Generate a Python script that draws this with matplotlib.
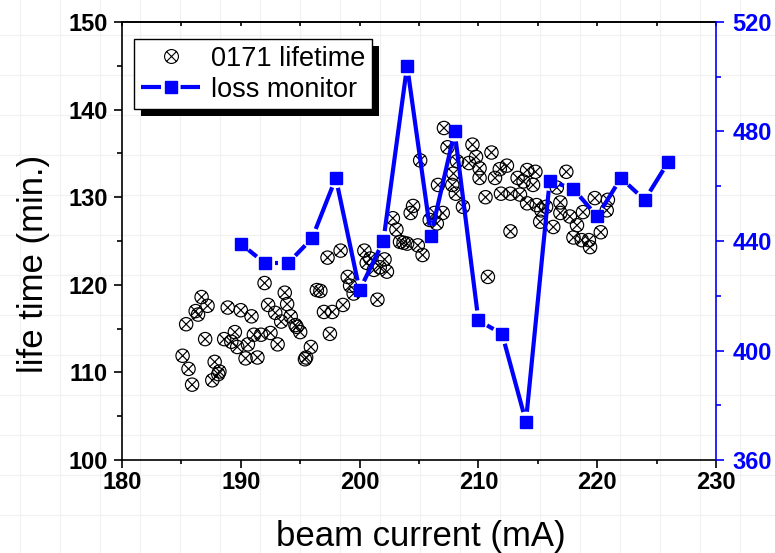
import numpy as np
import matplotlib
matplotlib.use("Agg")
import matplotlib.pyplot as plt
from matplotlib.path import Path
from matplotlib.lines import Line2D
from matplotlib.patches import Rectangle

plt.rcParams['font.family'] = ['Liberation Sans', 'DejaVu Sans']

# 0171 lifetime (min.) vs beam current (mA)
life_current = [192.0, 186.7, 187.2, 186.2, 186.4, 185.4, 188.9, 190.0, 190.9, 187.0,
                188.6, 189.5, 189.2, 189.7, 190.4, 191.4, 190.6, 191.1, 191.7, 192.5,
                193.1, 192.3, 193.7, 193.9, 192.9, 193.4, 194.2, 194.6, 195.0, 194.7,
                195.9, 195.4, 195.5, 196.4, 196.7, 197.0, 197.7, 197.5, 185.1, 185.6,
                185.9, 187.8, 188.2, 188.1, 187.6, 204.5, 204.3, 202.8, 203.1, 203.4,
                203.7, 204.0, 204.9, 205.3, 206.3, 207.0, 205.9, 206.5, 206.6, 207.8,
                208.1, 197.3, 198.4, 200.4, 200.9, 200.6, 202.1, 202.3, 201.7, 201.2,
                199.0, 199.2, 199.5, 201.5, 198.6, 207.1, 207.4, 209.5, 209.8, 209.2,
                210.1, 210.1, 211.1, 212.4, 211.8, 211.4, 214.1, 213.3, 213.8, 214.6,
                208.7, 210.6, 211.9, 212.7, 213.5, 214.1, 214.9, 215.3, 215.2, 212.7,
                208.2, 207.9, 210.8, 217.4, 214.8, 216.6, 215.7, 216.9, 216.9, 217.7,
                218.8, 219.8, 220.9, 220.8, 216.3, 218.3, 218.0, 218.7, 219.4, 220.3,
                219.3, 205.1]
life_time = [120.2, 118.6, 117.6, 117.0, 116.6, 115.5, 117.4, 117.1, 116.4, 113.8,
             113.8, 114.6, 113.5, 112.9, 111.6, 111.7, 113.2, 114.3, 114.3, 114.5,
             113.2, 117.7, 119.1, 117.8, 116.8, 115.8, 116.4, 115.4, 114.6, 115.2,
             112.9, 111.5, 111.7, 119.4, 119.3, 116.9, 116.9, 114.4, 111.9, 110.4,
             108.6, 111.2, 110.1, 109.8, 109.1, 129.0, 128.2, 127.6, 126.3, 124.9,
             124.8, 124.7, 124.5, 123.4, 128.2, 128.2, 127.4, 127.0, 131.4, 131.4,
             130.4, 123.1, 123.9, 123.9, 123.0, 122.5, 122.9, 121.5, 122.0, 121.7,
             120.9, 119.9, 119.0, 118.3, 117.7, 137.9, 135.7, 136.0, 134.6, 133.9,
             133.3, 132.2, 135.1, 133.6, 133.2, 132.2, 133.1, 132.2, 131.8, 131.4,
             128.9, 130.0, 130.4, 130.4, 130.3, 129.3, 129.1, 128.5, 127.2, 126.1,
             134.1, 132.7, 120.9, 132.9, 132.9, 131.1, 128.9, 129.4, 128.2, 127.8,
             128.3, 129.9, 129.7, 128.5, 126.6, 126.8, 125.4, 125.1, 124.3, 126.0,
             125.1, 134.2]

# loss monitor (right axis)
loss_current = [190, 192, 194, 196, 198, 200, 202, 204, 206, 208,
                210, 212, 214, 216, 218, 220, 222, 224, 226]
loss_value = [439, 432, 432, 441, 463, 422, 440, 504, 442, 480,
              411, 406, 374, 462, 459, 449, 463, 455, 469]

x_ticks = [180, 190, 200, 210, 220, 230]
y_ticks = [100, 110, 120, 130, 140, 150]
y2_ticks = [360, 400, 440, 480, 520]

W, H = 775, 553
fig = plt.figure(figsize=(W / 100, H / 100), dpi=100)
fig.patch.set_facecolor('white')

# faint background grid of the page
for px in np.arange(20, W, 40):
    fig.add_artist(Line2D([px / W, px / W], [0, 1], transform=fig.transFigure,
                          color='#f1f1f1', lw=0.9, zorder=-5))
for py in np.arange(35, H, 40):
    fig.add_artist(Line2D([0, 1], [1 - py / H, 1 - py / H], transform=fig.transFigure,
                          color='#f1f1f1', lw=0.9, zorder=-5))

ax = fig.add_axes([122 / W, 1 - 460 / H, 594 / W, 438 / H])
ax.set_facecolor('none')
ax2 = ax.twinx()
ax2.set_facecolor('none')

ax.set_xlim(180, 230)
ax.set_ylim(100, 150)
ax2.set_ylim(360, 520)

# circle with a cross marker
d = 0.74
otimes = Path.make_compound_path(
    Path.unit_circle(),
    Path([[-d, -d], [d, d], [-d, d], [d, -d]],
         [Path.MOVETO, Path.LINETO, Path.MOVETO, Path.LINETO]))

ax.scatter(life_current, life_time, s=92, marker=otimes, facecolors='none',
           edgecolors='black', linewidths=0.85, zorder=3)


# line with small gaps around each square, like Origin draws it
def gapped_line(a, xs, ys, gap, **kw):
    pts = a.transData.transform(np.column_stack([xs, ys]))
    inv = a.transData.inverted()
    for p0, p1 in zip(pts[:-1], pts[1:]):
        v = p1 - p0
        n = np.hypot(v[0], v[1])
        if n <= 2 * gap:
            continue
        u = v / n
        s0 = inv.transform(p0 + u * gap)
        s1 = inv.transform(p1 - u * gap)
        a.plot([s0[0], s1[0]], [s0[1], s1[1]], **kw)


gapped_line(ax2, loss_current, loss_value, 10, color='#0000ff', lw=3,
            solid_capstyle='butt', zorder=4)
ax2.plot(loss_current, loss_value, ls='none', marker='s', ms=8.2, color='#0000ff',
         mec='#0000ff', mew=1, zorder=5)

# ticks
ax.set_xticks(x_ticks)
ax.set_xticks(np.arange(185, 230, 10), minor=True)
ax.set_yticks(y_ticks)
ax.set_yticks(np.arange(105, 150, 10), minor=True)
ax2.set_yticks(y2_ticks)
ax2.set_yticks(np.arange(380, 520, 40), minor=True)

ax.tick_params(axis='x', which='major', direction='out', length=6, width=1.2,
               labelsize=17, pad=2)
ax.tick_params(axis='x', which='minor', direction='out', length=3, width=1.2)
ax.tick_params(axis='y', which='major', direction='out', length=6, width=1.2,
               labelsize=17, pad=4, right=False)
ax.tick_params(axis='y', which='minor', direction='out', length=3.5, width=1.2,
               right=False)
ax2.tick_params(axis='y', which='major', direction='out', length=6, width=1.2,
                labelsize=17, pad=6, colors='#0000ff')
ax2.tick_params(axis='y', which='minor', direction='out', length=3.5, width=1.2,
                colors='#0000ff')
for lab in ax.get_xticklabels() + ax.get_yticklabels() + ax2.get_yticklabels():
    lab.set_fontweight('bold')

top = ax.secondary_xaxis('top')
top.set_xticks(np.arange(180, 231, 5))
top.tick_params(axis='x', direction='in', length=3, width=1.2,
                labeltop=False, labelbottom=False)
top.spines['top'].set_linewidth(1.2)

for sp in ['left', 'bottom', 'top']:
    ax.spines[sp].set_linewidth(1.2)
ax.spines['right'].set_visible(False)
for sp in ['left', 'bottom', 'top']:
    ax2.spines[sp].set_visible(False)
ax2.spines['right'].set_color('#0000ff')
ax2.spines['right'].set_linewidth(1.2)

ax.set_xlabel('beam current (mA)', fontsize=25)
ax.xaxis.set_label_coords((421 - 122) / 594, (460 - 546) / 438)
ax.xaxis.label.set_va('baseline')
ax.set_ylabel('life time (min.)', fontsize=25)
ax.yaxis.set_label_coords((50 - 122) / 594, (460 - 263.5) / 438)

# legend
h1 = Line2D([], [], ls='none', marker=otimes, ms=10, mfc='none', mec='black', mew=0.8)
h2 = Line2D([], [], color='#0000ff', lw=3, dashes=(4.8, 4.7), marker='s', ms=8.2,
            mec='#0000ff', mfc='#0000ff', dash_capstyle='butt')
leg = ax2.legend([h1, h2], ['0171 lifetime', 'loss monitor'], loc='upper left',
                 bbox_to_anchor=((134 - 122) / 594, 1 - (39 - 22) / 438),
                 borderaxespad=0, fontsize=19.5, fancybox=False, framealpha=1,
                 edgecolor='black', borderpad=0.25, labelspacing=0.18,
                 handlelength=2.2, handletextpad=0.4)
leg.get_frame().set_linewidth(1.0)

fig.canvas.draw()
bb = leg.get_window_extent().transformed(fig.transFigure.inverted())
fig.add_artist(Rectangle((bb.x0 + 7 / W, bb.y0 - 7 / H), bb.width, bb.height,
                         transform=fig.transFigure, facecolor='black',
                         edgecolor='none', zorder=-1))

fig.savefig('out.png', dpi=100)
